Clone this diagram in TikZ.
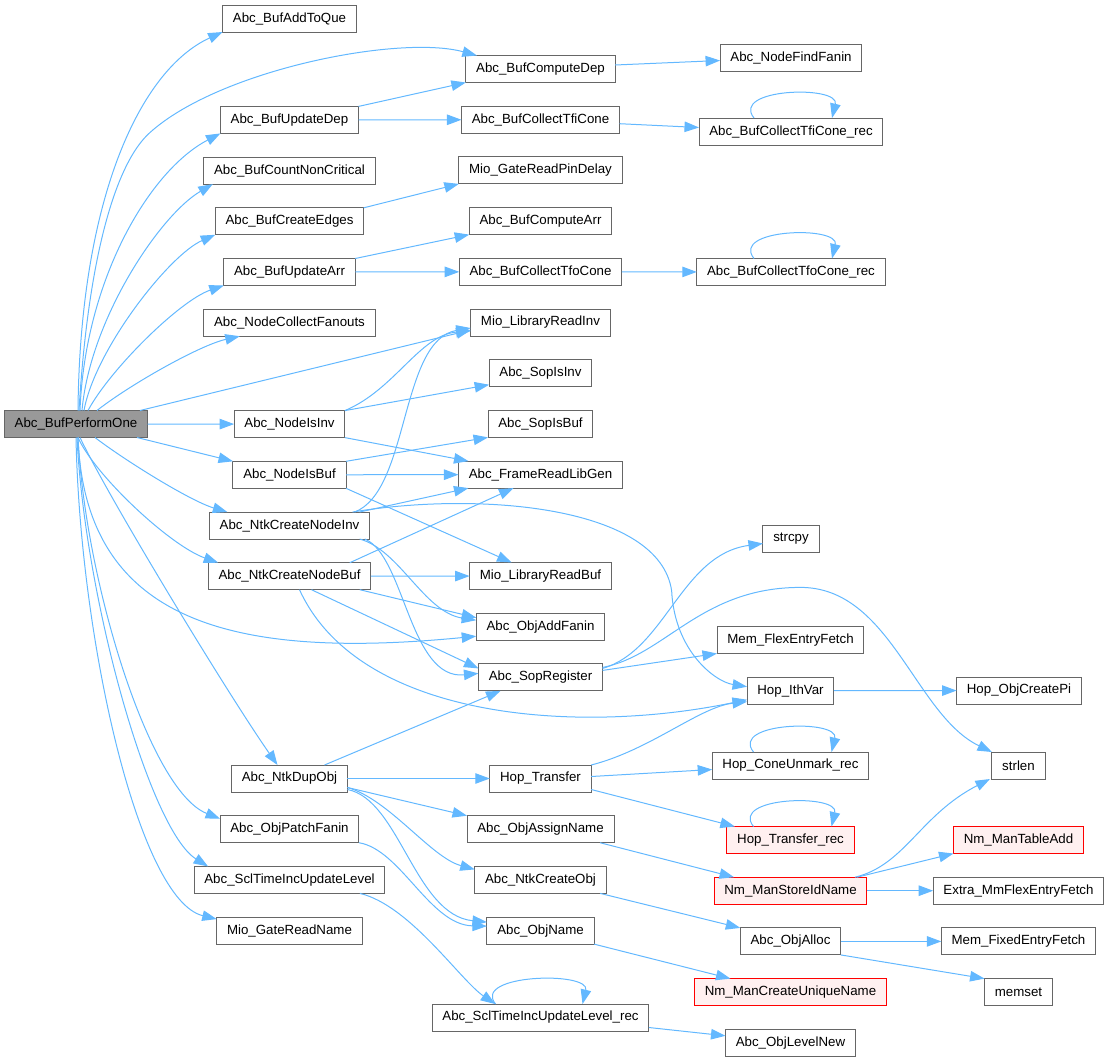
\documentclass[tikz,border=0pt]{standalone}
\usepackage{fontspec}
\setmainfont{Liberation Sans}
\usepackage{xcolor}
\usetikzlibrary{arrows.meta,positioning,calc}
\definecolor{edgecolor}{RGB}{99,184,255}
\definecolor{boxborder}{RGB}{102,102,102}
\definecolor{rootfill}{RGB}{153,153,153}
\definecolor{missingfill}{RGB}{255,240,240}

\begin{document}
\begin{tikzpicture}[
    x=1pt, y=-1pt,
    node distance=23.7pt and 2cm,
    every node/.style={font=\fontsize{13.3}{16}\selectfont},
    func/.style={rectangle, draw=boxborder, fill=white, line width=1pt, minimum height=27pt, inner xsep=10.3pt, inner ysep=0pt, outer sep=0pt},
    rootfunc/.style={func, fill=rootfill},
    extfunc/.style={func, draw=red, fill=missingfill},
    arrow/.style={->, >={Triangle[length=14.5pt, width=10.5pt]}, line width=1pt, edgecolor}
]
\useasboundingbox (0,0) rectangle (1109,1061);

% Caller
\node[rootfunc] (root) at (76,424) {Abc\_BufPerformOne};

% Direct callees
\node[func] (addq) at (289.5,18.5) {Abc\_BufAddToQue};
\node[func, below=74.4pt of addq] (updep) {Abc\_BufUpdateDep};
\node[func, below=of updep] (countnc) {Abc\_BufCountNonCritical};
\node[func, below=of countnc] (crtedges) {Abc\_BufCreateEdges};
\node[func, below=of crtedges] (updarr) {Abc\_BufUpdateArr};
\node[func, below=of updarr] (collfan) {Abc\_NodeCollectFanouts};
\node[func, below=74.4pt of collfan] (isinv) {Abc\_NodeIsInv};
\node[func, below=of isinv] (isbuf) {Abc\_NodeIsBuf};
\node[func, below=of isbuf] (cninv) {Abc\_NtkCreateNodeInv};
\node[func, below=of cninv] (cnbuf) {Abc\_NtkCreateNodeBuf};
\node[func, below=175.3pt of cnbuf] (dupobj) {Abc\_NtkDupObj};
\node[func, below=of dupobj] (patch) {Abc\_ObjPatchFanin};
\node[func, below=of patch] (scltime) {Abc\_SclTimeIncUpdateLevel};
\node[func, below=of scltime] (gatename) {Mio\_GateReadName};

% Second level
\node[func] (compdep) at (540.5,69) {Abc\_BufComputeDep};
\node[func, below=of compdep] (colltfi) {Abc\_BufCollectTfiCone};
\node[func, below=of colltfi] (pindelay) {Mio\_GateReadPinDelay};
\node[func, below=of pindelay] (comparr) {Abc\_BufComputeArr};
\node[func, below=of comparr] (colltfo) {Abc\_BufCollectTfoCone};
\node[func, below=of colltfo] (readinv) {Mio\_LibraryReadInv};
\node[func, below=of readinv] (sopinv) {Abc\_SopIsInv};
\node[func, below=of sopinv] (sopbuf) {Abc\_SopIsBuf};
\node[func, below=of sopbuf] (libgen) {Abc\_FrameReadLibGen};
\node[func, below=74.4pt of libgen] (readbuf) {Mio\_LibraryReadBuf};
\node[func, below=of readbuf] (addfanin) {Abc\_ObjAddFanin};
\node[func, below=of addfanin] (sopreg) {Abc\_SopRegister};
\node[func, below=74.1pt of sopreg] (transfer) {Hop\_Transfer};
\node[func, below=of transfer] (assign) {Abc\_ObjAssignName};
\node[func, below=of assign] (ncobj) {Abc\_NtkCreateObj};
\node[func, below=of ncobj] (objname) {Abc\_ObjName};
\node[func, below=59.9pt of objname] (sclrec) {Abc\_SclTimeIncUpdateLevel\_rec};

% Third level
\node[func] (findfanin) at (791,57.5) {Abc\_NodeFindFanin};
\node[func] (tfirec) at (791,131.5) {Abc\_BufCollectTfiCone\_rec};
\node[func] (tforec) at (791,272) {Abc\_BufCollectTfoCone\_rec};
\node[func] (strcpy) at (791,538.5) {strcpy};
\node[func] (flexfetch) at (790.5,640) {Mem\_FlexEntryFetch};
\node[func, below=of flexfetch] (ithvar) {Hop\_IthVar};
\node[func] (coneun) at (790.5,765.5) {Hop\_ConeUnmark\_rec};
\node[extfunc, below=47.5pt of coneun] (transrec) {Hop\_Transfer\_rec};
\node[extfunc, below=of transrec] (storeid) {Nm\_ManStoreIdName};
\node[func, below=of storeid] (alloc) {Abc\_ObjAlloc};
\node[extfunc, below=of alloc] (uniq) {Nm\_ManCreateUniqueName};
\node[func, below=of uniq] (levelnew) {Abc\_ObjLevelNew};

% Fourth level
\node[func] (createpi) at (1019,690.5) {Hop\_ObjCreatePi};
\node[func] (strlen) at (1018.5,765.5) {strlen};
\node[extfunc, below=47.5pt of strlen] (tableadd) {Nm\_ManTableAdd};
\node[func, below=of tableadd] (mmflex) {Extra\_MmFlexEntryFetch};
\node[func, below=of mmflex] (fixfetch) {Mem\_FixedEntryFetch};
\node[func, below=of fixfetch] (memset) {memset};

% Calls from Abc_BufPerformOne
\draw[arrow] ([xshift=2pt]root.north) .. controls +(2,-211) and +(-83,38) .. (addq.south west);
\draw[arrow] ([xshift=3pt]root.north) .. controls +(9,-151) and +(-35,31) .. ($(root.north)+(74,-278)$) .. controls +(70,-63) and +(-77,-21) .. ([xshift=11pt]compdep.north west);
\draw[arrow] ([xshift=4pt]root.north) .. controls +(5,-131) and +(-71,37) .. (updep.south west);
\draw[arrow] ([xshift=6pt]root.north) .. controls +(8,-91) and +(-53,31) .. ([xshift=9pt]countnc.south west);
\draw[arrow] ([xshift=8pt]root.north) .. controls +(11,-61) and +(-46,20) .. (crtedges.south west);
\draw[arrow] ([xshift=12pt]root.north) .. controls +(22,-41) and +(-44,15) .. (updarr.south west);
\draw[arrow] ([xshift=21pt]root.north) .. controls +(33,-26) and +(-40,9) .. ([xshift=36pt]collfan.south west);
\draw[arrow] ([xshift=64pt]root.north) -- ([yshift=6pt]readinv.south west);
\draw[arrow] (root) -- (isinv);
\draw[arrow] ([xshift=61pt]root.south) -- (isbuf.north west);
\draw[arrow] ([xshift=19pt]root.south) .. controls +(30,23) and +(-37,-11) .. ([xshift=18pt]cninv.north west);
\draw[arrow] ([xshift=2pt]root.south) .. controls +(17,38) and +(-48,-17) .. ([xshift=10pt]cnbuf.north west);
\draw[arrow] ([xshift=2pt]root.south) .. controls +(7,183) and +(-247,24) .. ([yshift=4pt]addfanin.south west);
\draw[arrow] ([xshift=4pt]root.south) .. controls +(30,63) and +(-47,-67) .. ([xshift=-12pt]dupobj.north);
\draw[arrow] ([xshift=2pt]root.south) .. controls +(7,143) and +(-71,-28) .. ([yshift=-3pt]patch.north west);
\draw[arrow] ([xshift=1pt]root.south) .. controls +(8,163) and +(-58,-36) .. ([xshift=14pt]scltime.north west);
\draw[arrow] (root.south) .. controls +(4,203) and +(-78,-19) .. ([yshift=-2pt]gatename.north west);

% Dependency and arrival updates
\draw[arrow] (updep.north east) -- (compdep.south west);
\draw[arrow] (updep) -- (colltfi);
\draw[arrow] ([yshift=4pt]compdep.east) -- ([yshift=-3pt]findfanin.west);
\draw[arrow] ([yshift=-4pt]colltfi.east) -- ([yshift=4pt]tfirec.west);
\draw[arrow] ([xshift=-37pt]tfirec.north) .. controls +(-24,-30) and +(8,-33) .. ([xshift=41pt]tfirec.north);
\draw[arrow] (crtedges.north east) -- (pindelay.south west);
\draw[arrow] (updarr.north east) -- (comparr.south west);
\draw[arrow] (updarr) -- (colltfo);
\draw[arrow] (colltfo) -- (tforec);
\draw[arrow] ([xshift=-37pt]tforec.north) .. controls +(-24,-30) and +(8,-33) .. ([xshift=41pt]tforec.north);

% Inverter and buffer checks
\draw[arrow] (isinv.north east) .. controls +(50,-21) and +(-51,4) .. ([yshift=5pt]readinv.south west);
\draw[arrow] (isinv.north east) -- ([yshift=2pt]sopinv.south west);
\draw[arrow] (isinv.south east) -- ([xshift=10pt]libgen.north west);
\draw[arrow] (isbuf.north east) -- (sopbuf.south west);
\draw[arrow] (isbuf) -- (libgen);
\draw[arrow] (isbuf.south east) -- ([xshift=42pt]readbuf.north west);

% Node creation
\draw[arrow] ([xshift=-15pt]cninv.north east) .. controls +(55,-21) and +(-71,12) .. ([yshift=8pt]readinv.south west);
\draw[arrow] ([xshift=-10pt]cninv.north east) -- ([xshift=10pt]libgen.south west);
\draw[arrow] ([xshift=-17pt]cninv.north east) .. controls +(127,-21) and +(-12,-85) .. ($(cninv.north east)+(302,79)$) .. controls +(3,60) and +(-32,-5) .. ([yshift=4pt]ithvar.west);
\draw[arrow] ([xshift=-10pt]cninv.south east) .. controls +(40,11) and +(-52,-8) .. ([yshift=-7pt]addfanin.north west);
\draw[arrow] ([xshift=-5pt]cninv.south east) .. controls +(40,16) and +(-69,7) .. ([yshift=4pt]sopreg.west);
\draw[arrow] ([xshift=-21pt]cnbuf.north east) -- ([xshift=-27pt]libgen.south);
\draw[arrow] (cnbuf) -- (readbuf);
\draw[arrow] ([xshift=-11pt]cnbuf.south east) -- ([yshift=9pt]addfanin.west);
\draw[arrow] ([xshift=22pt]cnbuf.south) -- ([yshift=9pt]sopreg.west);
\draw[arrow] ([xshift=10pt]cnbuf.south) .. controls +(60,131) and +(-167,35) .. ([yshift=-9pt]ithvar.west);

% SOP registration
\draw[arrow] ([yshift=9pt]sopreg.east) .. controls +(63,-18) and +(-82,11) .. ([yshift=-5pt]strcpy.west);
\draw[arrow] ([yshift=7pt]sopreg.east) -- (flexfetch.south west);
\draw[arrow] ([yshift=10pt]sopreg.east) .. controls +(63,-12) and +(-100,0) .. ($(sopreg.east)+(198,-90)$) .. controls +(90,0) and +(-77,-37) .. (strlen.north west);
\draw[arrow] (ithvar) -- (createpi);

% Object duplication
\draw[arrow] ([xshift=35pt]dupobj.north) -- ([xshift=-40pt]sopreg.south);
\draw[arrow] (dupobj) -- (transfer);
\draw[arrow] ([yshift=-9pt]dupobj.east) -- (assign.north west);
\draw[arrow] ([yshift=-9pt]dupobj.east) .. controls +(42,12) and +(-44,-12) .. ([yshift=-3pt]ncobj.north west);
\draw[arrow] ([yshift=-11pt]dupobj.east) .. controls +(52,10) and +(-72,-7) .. ([yshift=-5pt]objname.north west);
\draw[arrow] (patch.south east) .. controls +(42,7) and +(-57,-1) .. ([yshift=-9pt]objname.north west);
\draw[arrow] ([xshift=-25pt]scltime.south east) .. controls +(50,12) and +(-35,-24) .. ([xshift=63pt]sclrec.north west);
\draw[arrow] ([xshift=-45pt]sclrec.north) .. controls +(-24,-30) and +(8,-33) .. ([xshift=42pt]sclrec.north);
\draw[arrow] ([yshift=-10pt]sclrec.east) -- ([yshift=7pt]levelnew.west);

% Hop transfer
\draw[arrow] (transfer.north east) .. controls +(59,-15) and +(-47,5) .. ([yshift=-11pt]ithvar.west);
\draw[arrow] ([yshift=2pt]transfer.east) -- ([yshift=-4pt]coneun.west);
\draw[arrow] ([xshift=-37pt]coneun.north) .. controls +(-24,-30) and +(8,-33) .. ([xshift=41pt]coneun.north);
\draw[arrow] ([yshift=-11pt]transfer.east) -- ([xshift=8pt]transrec.north west);
\draw[arrow] ([xshift=-37pt]transrec.north) .. controls +(-24,-30) and +(8,-33) .. ([xshift=41pt]transrec.north);

% Names and memory
\draw[arrow] ([xshift=-14pt]assign.south east) -- ([xshift=20pt]storeid.north west);
\draw[arrow] ([xshift=-6pt]ncobj.south east) -- (alloc.north west);
\draw[arrow] (objname.south east) -- ([xshift=36pt]uniq.north west);
\draw[arrow] ([xshift=-12pt]storeid.north east) .. controls +(50,-12) and +(-70,36) .. ([xshift=-2pt]strlen.south west);
\draw[arrow] ([xshift=-10pt]storeid.north east) -- (tableadd.south west);
\draw[arrow] (storeid) -- (mmflex);
\draw[arrow] (alloc) -- (fixfetch);
\draw[arrow] (alloc.south east) -- (memset.north west);

\end{tikzpicture}
\end{document}
